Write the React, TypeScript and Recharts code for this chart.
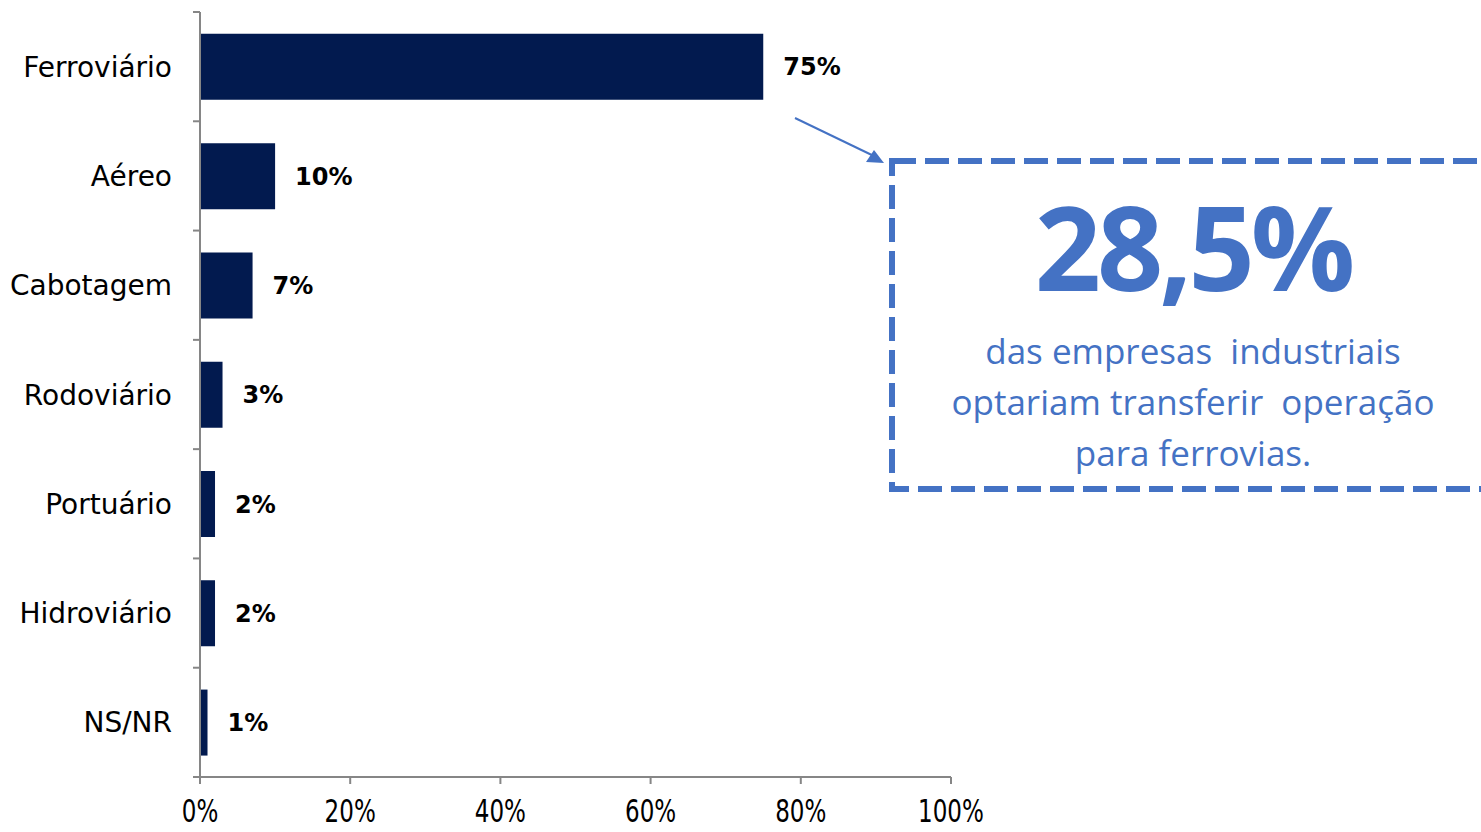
import React from "react";
import { BarChart, Bar, XAxis, YAxis, LabelList } from "recharts";

const categories = [
  "Ferroviário",
  "Aéreo",
  "Cabotagem",
  "Rodoviário",
  "Portuário",
  "Hidroviário",
  "NS/NR",
];
const shares = [75, 10, 7, 3, 2, 2, 1];
const xTicks = [0, 20, 40, 60, 80, 100];

const highlight = "28,5%";
const highlightLines = [
  "das empresas  industriais",
  "optariam transferir  operação",
  "para ferrovias.",
];

const data = categories.map((name, i) => ({ name, value: shares[i] }));

const AXIS_GRAY = "#868686";
const NAVY = "#021A4F";
const BLUE = "#4472C4";
const TICK = 7;
const GAP = 21;

const CategoryTick = (props: any) => {
  const { x, y, payload, index, visibleTicksCount } = props;
  const half = payload && payload.offset ? payload.offset : 54.6;
  const ax = x + GAP + TICK;
  return (
    <g>
      <line x1={ax - TICK} x2={ax} y1={y - half} y2={y - half} stroke={AXIS_GRAY} strokeWidth={2} />
      {index === visibleTicksCount - 1 && (
        <line x1={ax - TICK} x2={ax} y1={y + half} y2={y + half} stroke={AXIS_GRAY} strokeWidth={2} />
      )}
      <text
        x={x}
        y={y}
        dy={10}
        textAnchor="end"
        fontSize={28}
        fontFamily="'DejaVu Sans', sans-serif"
        fill="#000"
      >
        {payload.value}
      </text>
    </g>
  );
};

const PercentTick = (props: any) => {
  const { x, y, payload } = props;
  return (
    <g transform={`translate(${x}, ${y + 38}) scale(0.72, 1)`}>
      <text
        x={0}
        y={0}
        textAnchor="middle"
        fontSize={32}
        fontFamily="'DejaVu Sans', sans-serif"
        fill="#000"
      >
        {payload.value}%
      </text>
    </g>
  );
};

export default function App() {
  return (
    <div style={{ position: "absolute", left: 0, top: 0, width: 1481, height: 832, background: "#fff" }}>
      <BarChart
        width={1481}
        height={832}
        data={data}
        layout="vertical"
        margin={{ top: 12, right: 530, bottom: 0, left: 10 }}
        barCategoryGap="20%"
      >
        <XAxis
          type="number"
          domain={[0, 100]}
          ticks={xTicks}
          interval={0}
          height={55}
          tickSize={TICK}
          tickMargin={0}
          axisLine={{ stroke: AXIS_GRAY, strokeWidth: 2 }}
          tickLine={{ stroke: AXIS_GRAY, strokeWidth: 2 }}
          tick={<PercentTick />}
        />
        <YAxis
          type="category"
          dataKey="name"
          width={190}
          interval={0}
          tickSize={TICK}
          tickMargin={GAP}
          tickLine={false}
          axisLine={{ stroke: AXIS_GRAY, strokeWidth: 2 }}
          tick={<CategoryTick />}
        />
        <Bar dataKey="value" fill={NAVY} isAnimationActive={false}>
          <LabelList
            dataKey="value"
            position="right"
            offset={20}
            formatter={(v: any) => `${v}%`}
            fill="#000"
            fontSize={24}
            fontWeight="bold"
            fontFamily="'DejaVu Sans', sans-serif"
          />
        </Bar>
      </BarChart>
      <svg
        width={1481}
        height={832}
        style={{ position: "absolute", left: 0, top: 0, pointerEvents: "none" }}
      >
        <line x1={795} y1={118} x2={878} y2={158} stroke={BLUE} strokeWidth={2} />
        <path d="M884,163 L866,162 L874,150 Z" fill={BLUE} />
        <rect
          x={892}
          y={161}
          width={620}
          height={328}
          fill="none"
          stroke={BLUE}
          strokeWidth={6}
          strokeDasharray="24 9"
        />
        <text
          x={1193}
          y={291}
          textAnchor="middle"
          fontSize={116}
          fontWeight="bold"
          letterSpacing={-4}
          fontFamily="'Open Sans', sans-serif"
          fill={BLUE}
        >
          {highlight}
        </text>
        {highlightLines.map((line, i) => (
          <text
            key={line}
            x={1193}
            y={364 + i * 51}
            textAnchor="middle"
            fontSize={35}
            fontFamily="'Open Sans', sans-serif"
            fill={BLUE}
            style={{ whiteSpace: "pre" }}
          >
            {line}
          </text>
        ))}
      </svg>
    </div>
  );
}
